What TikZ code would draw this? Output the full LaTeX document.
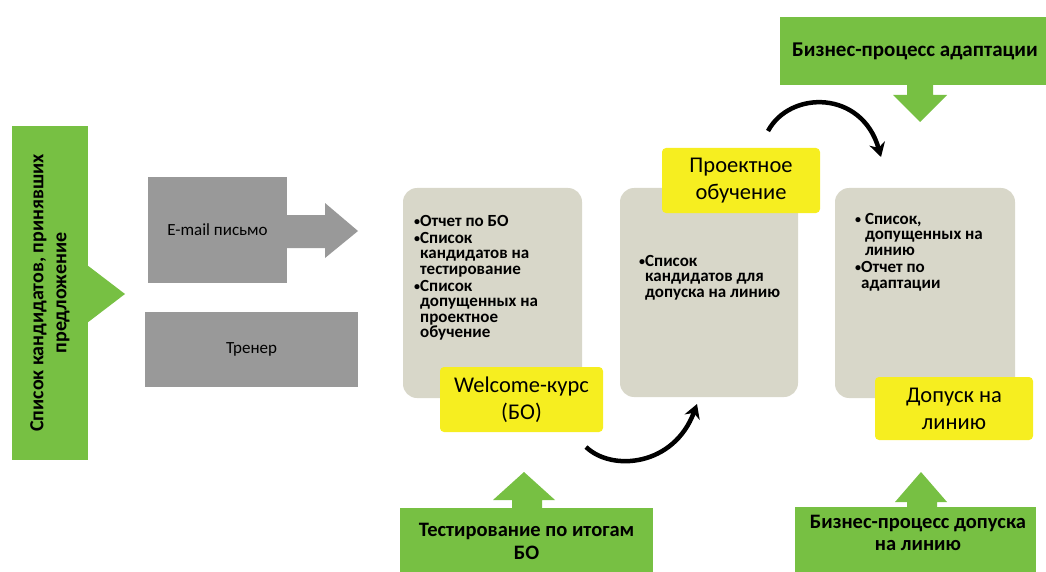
\documentclass[tikz,border=0pt]{standalone}
\usepackage{fontspec}
\setmainfont{Carlito}
\usetikzlibrary{arrows.meta}
\definecolor{grn}{RGB}{119,192,67}
\definecolor{ylw}{RGB}{246,238,32}
\definecolor{gry}{RGB}{153,153,153}
\definecolor{bge}{RGB}{216,215,201}
\newcommand\cardbullet{{\fontsize{12}{12}\selectfont\raisebox{1pt}{•}}}
\newcommand\cardindent{\phantom{\cardbullet}}
\tikzset{
  greenbox/.style={fill=grn, draw=none, inner sep=0pt, align=center, font=\bfseries\fontsize{20.5}{23}\selectfont},
  greyblock/.style={fill=gry, draw=none, inner sep=0pt, align=center, font=\fontsize{17}{20}\selectfont},
  card/.style={fill=bge, draw=none, rounded corners=14pt, inner sep=0pt},
  cardtext/.style={anchor=north west, align=left, inner sep=0pt, font=\bfseries\fontsize{17}{15.5}\selectfont},
  tag/.style={fill=ylw, draw=none, rounded corners=4pt, inner sep=0pt, align=center, font=\fontsize{22.5}{27}\selectfont},
  flowarrow/.style={fill=grn, draw=none},
  greyarrow/.style={fill=gry, draw=none},
  curvearrow/.style={line width=4.5pt, draw=black, -{Stealth[length=14pt,width=16pt]}},
}
\begin{document}
\begin{tikzpicture}[x=1pt,y=-1pt]
\useasboundingbox (0,0) rectangle (1046,572);

% left green block
\node[greenbox, rotate=90, minimum width=334pt, minimum height=76pt, font=\bfseries\fontsize{20}{23}\selectfont] (lg) at (50,293)
  {Список кандидатов, принявших\\предложение};
\fill[flowarrow] (87,265) -- (125,294) -- (87,323) -- cycle;

% grey blocks
\node[greyblock, minimum width=139pt, minimum height=106pt] (mail) at (217.5,230) {E-mail письмо};
\fill[greyarrow] (mail.east |- 0,215) -- (325,215) -- (325,203) -- (358,231) -- (325,258) -- (325,248) -- (mail.east |- 0,248) -- cycle;
\node[greyblock, minimum width=213pt, minimum height=75pt] (trainer) at (251.5,349.5) {Тренер};

% cards
\node[card, minimum width=179pt, minimum height=210pt] (c1) at (492.5,293) {};
\node[cardtext] (t1) at (414,215) {\cardbullet Отчет по БО\\[1.5pt]\cardbullet Список\\\cardindent кандидатов на\\\cardindent тестирование\\[1.5pt]\cardbullet Список\\\cardindent допущенных на\\\cardindent проектное\\\cardindent обучение};

\node[card, minimum width=178pt, minimum height=209pt] (c2) at (709,292.5) {};
\node[cardtext] (t2) at (639,255) {\cardbullet Список\\\cardindent кандидатов для\\\cardindent допуска на линию};

\node[card, minimum width=180pt, minimum height=210pt] (c3) at (925,293) {};
\node[cardtext] (t3) at (855,213) {\cardbullet\ Список,\\\cardindent\ допущенных на\\\cardindent\ линию\\[2pt]\cardbullet Отчет по\\\cardindent адаптации};

% yellow tags
\node[tag, minimum width=163pt, minimum height=65pt] (w) at (521.5,399.5) {Welcome-курс\\(БО)};
\node[tag, minimum width=158pt, minimum height=65pt] (p) at (741,180.5) {Проектное\\обучение};
\node[tag, minimum width=158pt, minimum height=63pt] (d) at (954,408.5) {Допуск на\\линию};

% top green block
\node[greenbox, minimum width=270pt, minimum height=68pt, font=\bfseries\fontsize{21}{24}\selectfont] (top) at (915,51) {Бизнес-процесс адаптации};
\fill[flowarrow] (907,84) -- (907,95) -- (893,95) -- (920,122) -- (947,95) -- (933,95) -- (933,84) -- cycle;

% bottom green blocks
\node[greenbox, minimum width=253pt, minimum height=66pt] (test) at (526.5,541) {Тестирование по итогам\\БО};
\fill[flowarrow] (512,509) -- (512,500) -- (493,500) -- (524,472) -- (555,500) -- (542,500) -- (542,509) -- cycle;

\node[greenbox, minimum width=241pt, minimum height=66pt] (admit) at (915.5,540) {};
\node[inner sep=0pt, align=center, font=\bfseries\fontsize{20.5}{22}\selectfont] (admitlbl) at (918,533) {Бизнес-процесс допуска\\на линию};
\fill[flowarrow] (907,508) -- (907,502) -- (895,502) -- (921,472) -- (947,502) -- (937,502) -- (937,508) -- cycle;

% curved arrows
\coordinate (b1) at (586,447);
\coordinate (b2) at (697,404);
\draw[curvearrow] (b1) .. controls (612,472) and (674,466) .. (b2);
\coordinate (u1) at (768,131);
\coordinate (u2) at (881,157);
\draw[curvearrow] (u1) .. controls (790,90) and (862,90) .. (u2);
\end{tikzpicture}
\end{document}
